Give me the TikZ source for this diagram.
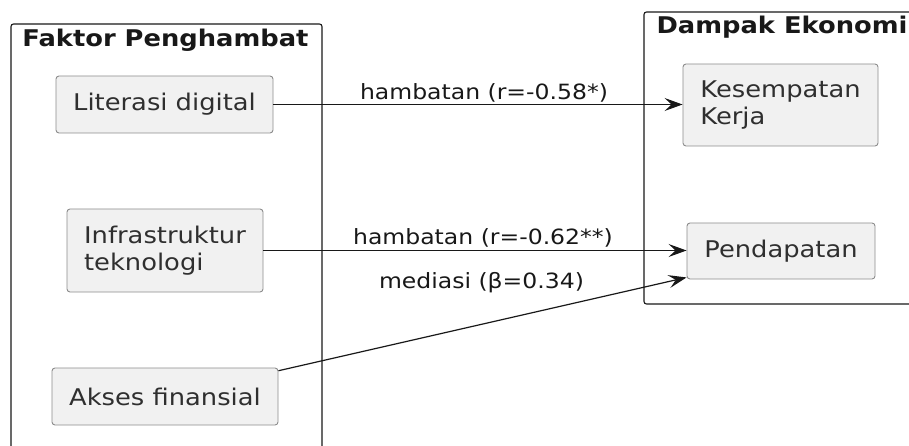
\documentclass[tikz,border=0pt]{standalone}
\usepackage{fontspec}
\setmainfont{DejaVu Sans}[FakeStretch=1.12]
\usetikzlibrary{arrows.meta,calc}
\definecolor{nodefill}{HTML}{F1F1F1}
\definecolor{nodeline}{HTML}{8C8C8C}
\definecolor{ink}{HTML}{181818}

\begin{document}
\begin{tikzpicture}[x=1pt,y=-1pt,
  comp/.style={draw=nodeline, fill=nodefill, rounded corners=3pt, line width=0.9pt,
    font=\fontsize{23}{26.5}\selectfont, text=ink!90, align=left, inner sep=0pt},
  pkg/.style={draw=ink, line width=1.1pt, rounded corners=2.5pt},
  pkgtitle/.style={font=\bfseries\fontsize{23}{26}\selectfont, text=ink, inner sep=0pt},
  flow/.style={draw=ink, line width=1.2pt, -{Stealth[length=18pt,width=13pt,inset=7pt]}},
  lbl/.style={font=\fontsize{21}{25}\selectfont, text=ink, inner sep=0pt}
]
\useasboundingbox (0,0) rectangle (909,446);

% package frames (both run off the page edge)
\draw[pkg] (11,470) -- (11,24) -- (322,24) -- (322,470);
\draw[pkg] (940,12) -- (644,12) -- (644,304) -- (940,304);
\node[pkgtitle] (t1) at (165.5,40) {Faktor Penghambat};
\node[pkgtitle] (t2) at (782,27) {Dampak Ekonomi};

% factor components
\node[comp, minimum width=217pt, minimum height=57pt] (lit) at (164.5,104.5) {Literasi digital};
\node[comp, minimum width=196pt, minimum height=83pt] (inf) at (165,250.5) {Infrastruktur\\teknologi};
\node[comp, minimum width=226pt, minimum height=57pt] (aks) at (165,396.5) {Akses finansial};

% impact components
\node[comp, minimum width=195pt, minimum height=82pt] (kes) at (780.5,105) {Kesempatan\\Kerja};
\node[comp, minimum width=188pt, minimum height=56pt] (pen) at (781,251) {Pendapatan};

% relations
\draw[flow] (lit.east) -- (kes.west|-lit.east);
\draw[flow] (inf.east) -- (pen.west|-inf.east);
\draw[flow] (aks) -- ($(pen.south west)+(0,-2)$);

\node[lbl] (r1) at (484,93) {hambatan (r=-0.58*)};
\node[lbl] (r2) at (483,238) {hambatan (r=-0.62**)};
\node[lbl] (r3) at (481.5,283) {mediasi (β=0.34)};
\end{tikzpicture}
\end{document}
